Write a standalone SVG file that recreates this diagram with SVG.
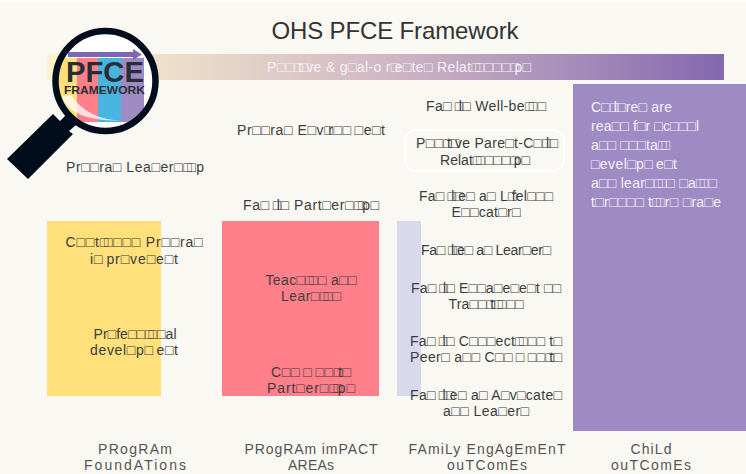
<svg xmlns="http://www.w3.org/2000/svg" width="746" height="474" viewBox="0 0 746 474">
<style>
text{font-family:"Liberation Sans",Arial,sans-serif;fill:#3d3d3d;font-size:14px;text-anchor:middle}
.w{fill:#f4f0f8}
.l{text-anchor:start}
.h{font-size:14px;fill:#555}
</style>
<defs>
<linearGradient id="band" x1="0" x2="1" y1="0" y2="0">
<stop offset="0" stop-color="#fff3cc"/><stop offset=".5" stop-color="#d0b8c4"/><stop offset="1" stop-color="#8468b0"/>
</linearGradient>
<clipPath id="lens"><circle cx="105.500" cy="81" r="50"/></clipPath>
</defs>
<rect width="746" height="474" fill="#f9f8f2"/>
<rect width="746" height="3" fill="#fdfcf9"/>
<g id="panels">
<rect id="p-yellow" x="47" y="221" width="114" height="175" fill="#ffe07a"/>
<rect id="p-red" x="222" y="221" width="157" height="175" fill="#ff7f8a"/>
<rect id="p-lav" x="397" y="221" width="24" height="175" fill="#d8d9ec"/>
<rect id="p-purple" x="573" y="84" width="173" height="347" fill="#9e8bc4"/>
</g>
<text x="395" y="39" style="font-size:24px;fill:#333" textLength="247">OHS PFCE Framework</text>
<g id="band-node"><rect x="47" y="54" width="677" height="26" fill="url(#band)"/>
<text class="w" x="399" y="72" textLength="264">P□□□<tspan dx="-5">t</tspan>□<tspan dx="-5">v</tspan>e &amp; g□al-o r□<tspan dx="-5">e</tspan>□te□ Relat□<tspan dx="-5">□</tspan>□□□□<tspan dx="-5">p</tspan>□</text></g>
<g id="magnifier">
<path d="M7 159 53 114 60 121 66 115 76 125 69 131 73 134 28 179Z" fill="#020d1c"/>
<circle cx="105.500" cy="81" r="50" fill="#fff"/>
<g clip-path="url(#lens)">
<rect x="55" y="58" width="22" height="64" fill="#ffe07a"/>
<rect x="77" y="58" width="21" height="64" fill="#ff7f8a"/>
<rect x="98" y="58" width="23" height="64" fill="#48b4e0"/>
<rect x="121" y="58" width="23" height="64" fill="#9e8bc4"/>
<path d="M62 97Q72 122 122 120.500Q88 120 71 95Z" fill="#fff" opacity=".75"/>
<path d="M68 52H133V49L142 54.500 133 60V57H68Z" fill="#7f68b3"/>
</g>
<text x="105" y="82" style="font-size:29px;font-weight:bold;fill:#2b2d35" textLength="78" lengthAdjust="spacingAndGlyphs">PFCE</text>
<text x="104.500" y="94" style="font-size:10.500px;font-weight:bold;fill:#2b2d35" textLength="81" lengthAdjust="spacingAndGlyphs">FRAMEWORK</text>
<circle cx="105.500" cy="81" r="50" fill="none" stroke="#020d1c" stroke-width="6.500"/>
</g>
<g id="n-leadership"><text x="135" y="172" textLength="138">Pr□□ra□ Lea□er□□<tspan dx="-5">□</tspan>p</text></g>
<g id="n-environment"><text x="311" y="135" textLength="148">Pr□□ra□ E□v□<tspan dx="-5">r</tspan>□□<tspan dx="3">□</tspan>e□t</text></g>
<g id="n-wellbeing"><text x="486" y="111" textLength="120">Fa□<tspan dx="3">□</tspan><tspan dx="-5">l</tspan>□ Well-be□<tspan dx="-5">□</tspan>□</text></g>
<g id="n-parentchild"><rect x="405" y="130" width="159" height="41" rx="11" fill="none" stroke="#fff" stroke-width="1.500"/>
<text x="487" y="148" textLength="142">P□□□<tspan dx="-5">t</tspan>□<tspan dx="-5">v</tspan>e Pare□t-C□□<tspan dx="-5">l</tspan>□</text><text x="485" y="165" textLength="90">Relat□<tspan dx="-5">□</tspan>□□□□<tspan dx="-5">p</tspan>□</text></g>
<g id="n-familypart"><text x="311" y="210" textLength="136">Fa□<tspan dx="3">□</tspan><tspan dx="-5">l</tspan>□ Part□er□□<tspan dx="-5">□</tspan><tspan dx="-5">p</tspan>□</text></g>
<g id="n-lifelong"><text x="486" y="201" textLength="134">Fa□<tspan dx="3">□</tspan><tspan dx="-5">l</tspan>□<tspan dx="-5">e</tspan>□ a□ L□<tspan dx="-5">f</tspan>el□□□</text><text x="486" y="217" textLength="69">E□□cat□r□</text></g>
<g id="n-learners"><text x="486" y="255" textLength="130">Fa□<tspan dx="3">□</tspan><tspan dx="-5">l</tspan>□<tspan dx="-5">e</tspan>□ a□ Lear□er□</text></g>
<g id="n-transitions"><text x="486" y="293" textLength="150">Fa□<tspan dx="3">□</tspan><tspan dx="-5">l</tspan>□ E□□a□e□e□t □□</text><text x="486" y="309" textLength="75">Tra□□□<tspan dx="-5">t</tspan>□<tspan dx="-5">□</tspan>□□</text></g>
<g id="n-connections"><text x="486" y="346" textLength="152">Fa□<tspan dx="3">□</tspan><tspan dx="-5">l</tspan>□ C□□□ect□<tspan dx="-5">□</tspan>□□ t□</text><text x="486" y="362" textLength="152">Peer□ a□□ C□□<tspan dx="3">□</tspan><tspan dx="3">□</tspan>□□<tspan dx="-5">t</tspan>□</text></g>
<g id="n-advocates"><text x="486" y="400" textLength="152">Fa□<tspan dx="3">□</tspan><tspan dx="-5">l</tspan>□<tspan dx="-5">e</tspan>□ a□ A□v□cate□</text><text x="486" y="416" textLength="86">a□□ Lea□er□</text></g>
<g id="n-continuous"><text x="134" y="247" textLength="137">C□□<tspan dx="0">t</tspan>□<tspan dx="-5">□</tspan>□□□ Pr□□ra□</text><text x="134" y="264" textLength="88">i□<tspan dx="3">p</tspan>r□ve□e□t</text></g>
<g id="n-professional"><text x="135" y="339" textLength="83">Pr□fe□□□<tspan dx="-5">□</tspan>□al</text><text x="134" y="355" textLength="88">devel□p□<tspan dx="3">e</tspan>□t</text></g>
<g id="n-teaching"><text x="311" y="285" textLength="91">Teac□□<tspan dx="-5">□</tspan>□ a□□</text><text x="311" y="301" textLength="60">Lear□□<tspan dx="-5">□</tspan>□</text></g>
<g id="n-community"><text x="311" y="377" textLength="80">C□□<tspan dx="3">□</tspan><tspan dx="3">□</tspan>□□<tspan dx="-5">t</tspan>□</text><text x="311" y="393" textLength="88">Part□er□□<tspan dx="-5">□</tspan><tspan dx="-5">p</tspan>□</text></g>
<g id="n-children"><text class="l w" x="591" y="112" textLength="81">C□□<tspan dx="-5">l</tspan>□re□ are</text><text class="l w" x="591" y="131" textLength="108">rea□□ f□r □c□□□l</text><text class="l w" x="591" y="150" textLength="79">a□□ □□□ta□<tspan dx="-5">□</tspan></text><text class="l w" x="591" y="169" textLength="86">□evel□p□<tspan dx="3">e</tspan>□t</text><text class="l w" x="591" y="188" textLength="126">a□□ lear□□<tspan dx="-5">□</tspan>□ □a□<tspan dx="-5">□</tspan>□</text><text class="l w" x="591" y="207" textLength="130">t□r□□□□ t□<tspan dx="-5">□</tspan>r□ □ra□e</text></g>
<g id="labels">
<text class="h" x="135" y="454" textLength="74">PRogRAm</text><text class="h" x="135" y="470" textLength="102">FoundATions</text>
<text class="h" x="311" y="454" textLength="133">PRogRAm imPACT</text><text class="h" x="311" y="470" textLength="46">AREAs</text>
<text class="h" x="487" y="454" textLength="157">FAmiLy EngAgEmEnT</text><text class="h" x="487" y="470" textLength="80">ouTComEs</text>
<text class="h" x="651" y="454" textLength="41">ChiLd</text><text class="h" x="651" y="470" textLength="80">ouTComEs</text>
</g>
<g id="connectors"/>
</svg>
